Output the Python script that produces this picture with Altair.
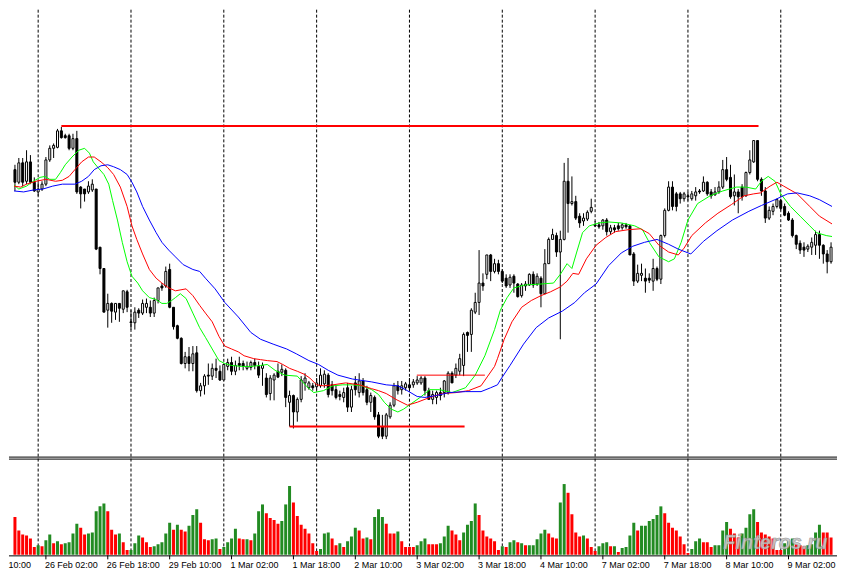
import altair as alt
import pandas as pd

# ---------------- data (price units are arbitrary points) ----------------
OPEN = [
    335, 322, 342, 323, 343, 322, 312, 315, 320, 345,
    357, 358, 375, 370, 370, 357, 367, 317, 315, 312,
    314, 315, 255, 233, 190, 197, 188, 197, 191, 209,
    178, 177, 190, 187, 193, 193, 187, 200, 215, 215,
    232, 193, 174, 161, 135, 142, 135, 146, 107, 112,
    123, 122, 130, 127, 118, 132, 136, 127, 135, 135,
    130, 131, 136, 132, 130, 120, 104, 118, 127, 126,
    128, 95, 102, 85, 98, 115, 110, 112, 111, 112,
    114, 123, 113, 108, 103, 100, 110, 90, 115, 105,
    117, 108, 95, 100, 82, 70, 60, 80, 92, 112,
    108, 110, 113, 113, 115, 115, 120, 107, 98, 100,
    105, 105, 105, 125, 123, 127, 133, 167, 165, 188,
    198, 218, 227, 247, 230, 238, 230, 223, 216, 225,
    217, 205, 215, 216, 227, 217, 223, 207, 238, 263,
    267, 250, 263, 323, 300, 302, 287, 282, 284, 292,
    278, 278, 277, 283, 271, 275, 277, 275, 278, 277,
    248, 220, 226, 223, 223, 220, 233, 222, 267, 293,
    317, 310, 310, 305, 308, 305, 308, 313, 313, 322,
    312, 309, 312, 317, 335, 327, 308, 312, 317, 308,
    332, 343, 365, 325, 313, 285, 292, 297, 303, 297,
    290, 283, 267, 259, 255, 253, 255, 257, 268, 257,
    248, 240,
]
HIGH = [
    340, 347, 347, 355, 350, 327, 322, 323, 348, 360,
    362, 377, 379, 372, 372, 372, 375, 318, 315, 323,
    325, 315, 255, 233, 207, 198, 197, 197, 210, 211,
    190, 193, 192, 201, 202, 200, 203, 213, 218, 235,
    238, 193, 175, 162, 147, 152, 153, 153, 115, 124,
    135, 135, 140, 133, 135, 140, 142, 138, 142, 138,
    137, 138, 140, 137, 136, 125, 123, 125, 135, 134,
    130, 107, 103, 100, 122, 125, 117, 115, 120, 130,
    128, 125, 117, 112, 107, 110, 115, 112, 122, 125,
    120, 112, 105, 102, 85, 82, 84, 95, 115, 117,
    117, 116, 120, 119, 122, 122, 122, 110, 107, 107,
    110, 118, 127, 127, 135, 145, 167, 168, 192, 208,
    252, 228, 247, 248, 243, 242, 232, 227, 227, 227,
    218, 218, 220, 228, 230, 228, 225, 253, 265, 274,
    270, 272, 342, 347, 328, 308, 290, 290, 293, 305,
    282, 281, 284, 285, 278, 278, 280, 280, 280, 278,
    250, 237, 238, 233, 228, 243, 235, 268, 295, 323,
    323, 312, 312, 312, 312, 313, 317, 315, 328, 323,
    315, 317, 323, 345, 348, 340, 330, 315, 320, 333,
    355, 365, 365, 327, 317, 297, 300, 305, 305, 300,
    292, 285, 268, 262, 260, 258, 265, 272, 272, 258,
    252, 260,
]
LOW = [
    313, 320, 318, 320, 320, 312, 308, 313, 318, 343,
    347, 357, 367, 367, 355, 355, 310, 295, 302, 310,
    312, 252, 227, 188, 172, 177, 180, 178, 187, 188,
    170, 170, 182, 185, 187, 183, 183, 197, 210, 213,
    192, 170, 160, 134, 130, 127, 127, 105, 101, 103,
    113, 118, 120, 117, 118, 128, 123, 123, 128, 128,
    128, 128, 129, 120, 112, 100, 97, 97, 120, 122,
    90, 70, 68, 75, 95, 107, 108, 107, 108, 110,
    110, 100, 102, 98, 97, 95, 85, 85, 102, 100,
    102, 92, 85, 77, 58, 57, 57, 78, 90, 103,
    103, 107, 108, 110, 113, 113, 102, 98, 93, 93,
    97, 100, 103, 115, 120, 123, 122, 147, 147, 186,
    185, 210, 222, 220, 228, 227, 218, 213, 213, 208,
    203, 203, 210, 215, 213, 215, 193, 207, 238, 263,
    245, 160, 262, 270, 298, 283, 275, 277, 282, 290,
    276, 274, 273, 267, 268, 270, 272, 273, 274, 247,
    215, 218, 220, 208, 218, 210, 220, 217, 265, 292,
    293, 292, 300, 302, 303, 303, 303, 310, 312, 308,
    305, 308, 310, 315, 323, 305, 298, 290, 303, 307,
    330, 342, 323, 308, 280, 283, 288, 295, 293, 287,
    282, 265, 253, 248, 245, 250, 247, 247, 243, 238,
    228, 238,
]
CLOSE = [
    322, 342, 322, 343, 322, 313, 315, 320, 345, 357,
    360, 375, 368, 368, 357, 367, 312, 310, 310, 318,
    320, 253, 233, 188, 197, 189, 197, 192, 210, 193,
    177, 188, 187, 197, 197, 187, 200, 213, 213, 230,
    193, 173, 161, 135, 142, 135, 145, 107, 112, 122,
    122, 130, 128, 118, 134, 136, 127, 133, 133, 132,
    132, 136, 133, 123, 133, 103, 120, 123, 121, 129,
    100, 102, 85, 98, 118, 120, 115, 110, 115, 123,
    124, 103, 107, 100, 101, 105, 90, 108, 108, 117,
    105, 95, 102, 80, 60, 60, 82, 92, 112, 107,
    112, 114, 110, 116, 118, 120, 107, 98, 103, 105,
    102, 117, 125, 115, 130, 140, 165, 164, 190, 198,
    218, 215, 247, 230, 238, 230, 220, 215, 224, 218,
    204, 216, 217, 227, 216, 225, 207, 238, 263, 268,
    250, 263, 323, 300, 302, 285, 280, 285, 291, 296,
    277, 276, 283, 271, 275, 273, 274, 278, 276, 247,
    220, 228, 228, 220, 221, 233, 222, 267, 293, 317,
    297, 297, 305, 310, 307, 310, 312, 312, 322, 310,
    308, 312, 317, 335, 325, 307, 312, 307, 307, 332,
    345, 365, 325, 313, 285, 293, 297, 304, 295, 288,
    283, 267, 258, 252, 252, 256, 260, 268, 257, 248,
    240, 255,
]
VOLUME = [
    39, 25, 21, 20, 17, 8, 10, 9, 15, 21,
    12, 14, 11, 12, 13, 22, 32, 28, 21, 22,
    23, 45, 50, 53, 45, 26, 21, 22, 13, 5,
    5, 12, 20, 18, 13, 8, 9, 11, 13, 22,
    33, 26, 31, 26, 24, 30, 41, 47, 33, 16,
    15, 16, 17, 6, 8, 13, 17, 27, 17, 16,
    16, 15, 22, 45, 52, 43, 38, 36, 32, 35,
    52, 71, 54, 40, 31, 27, 22, 12, 4, 6,
    22, 23, 17, 10, 12, 8, 14, 19, 28, 25,
    17, 18, 16, 39, 47, 39, 32, 22, 22, 24,
    14, 8, 8, 8, 10, 14, 17, 11, 11, 11,
    12, 19, 30, 25, 21, 15, 23, 31, 35, 53,
    41, 25, 19, 17, 14, 5, 9, 8, 13, 15,
    13, 12, 10, 10, 10, 16, 22, 26, 22, 18,
    17, 54, 73, 64, 42, 23, 19, 20, 17, 8,
    4, 9, 12, 13, 9, 9, 3, 7, 8, 20,
    33, 25, 30, 30, 35, 37, 41, 50, 43, 33,
    28, 25, 19, 11, 2, 6, 14, 17, 13, 13,
    8, 10, 10, 25, 34, 27, 22, 18, 22, 28,
    42, 47, 34, 23, 21, 19, 17, 5, 5, 12,
    14, 17, 11, 10, 9, 10, 11, 23, 31, 23,
    23, 18,
]
# G = volume bar drawn green, R = drawn red
VOL_DIR = ("RRRRRRGRGG" "RGRGGGGRRG" "GGGGRRRGRR" "GGGRRRGGGG" "GRGRRGGGRR"
           "RGGRGGGGRR" "GRGGGRRRRG" "GGRRRRRRRG" "GGRRGRGGGR" "RGRGGGRRRG"
           "RRRRGGGRRR" "GGGRRRGGGG" "RRRRRRGRGG" "RGRGGGGGRR" "RGGRRRRGRR"
           "RGGGRGRGGG" "GRGGGGGGRR" "RRRRRGGGRR" "RGGGGRRRGG" "GGRRRRRRRG"
           "GGRRRGGGGR" "RR")

# Alligator-style moving averages (bar position, value)
GREEN_BAR = [-0.25, 1, 3, 4.75, 6.5, 7.75, 9, 10.5, 11.75, 13,
             14.75, 16.5, 18, 19.25, 20.25, 21.5, 23, 24.25, 25.25, 26.5,
             27.75, 29, 30.25, 31.75, 33, 34.75, 36.5, 38, 39.25, 40.5,
             41.5, 42.75, 44.25, 46, 47.75, 49.25, 51, 52.75, 54.25, 56,
             58.5, 61, 63.5, 65.25, 67.25, 69.75, 73, 75.5, 77.25, 79.75,
             82.25, 84.75, 87.25, 89.75, 92.25, 94, 95.5, 97.25, 99, 100.5,
             102.25, 104.75, 107.25, 109.75, 113, 116.5, 119, 121.5, 124, 125.5,
             127.25, 129, 131.75, 136, 139.25, 141, 142.75, 144, 145.25, 146.75,
             148.5, 151, 153.5, 156.75, 160.25, 162.25, 164, 166.5, 169, 170.5,
             172.25, 174, 176.5, 179.75, 183, 186.5, 189, 191.5, 193, 194.75,
             196.5, 198, 200.5, 203, 205.5, 207.25, 209.75, 211.25]
GREEN_VAL = [319, 315, 318, 323, 327, 328, 325, 325, 332, 340,
             348, 355, 357, 352, 343, 337, 330, 320, 303, 283,
             260, 240, 225, 218, 210, 203, 201, 197, 197, 200,
             203, 207, 202, 187, 172, 162, 150, 138, 135, 133,
             132, 132, 133, 134, 128, 123, 122, 111, 105, 107,
             112, 113, 113, 112, 108, 103, 95, 88, 85, 88,
             93, 100, 108, 108, 105, 110, 123, 143, 170, 190,
             203, 213, 216, 217, 218, 227, 238, 233, 250, 270,
             277, 280, 281, 280, 277, 273, 260, 245, 240, 243,
             260, 283, 300, 308, 313, 317, 317, 315, 323, 328,
             323, 310, 297, 287, 277, 270, 267, 266]
RED_BAR = [-0.25, 1.5, 3, 5.5, 8, 10.5, 12.25, 14, 15.5, 17.25,
           19, 20.5, 22.25, 24, 25.5, 27.25, 29, 30.25, 31.5, 33,
           34.75, 36.5, 38, 39.75, 41.5, 44.25, 46, 47.75, 49.25, 51,
           52.75, 54.25, 56, 57.75, 59.25, 61.75, 63.5, 65.25, 67.75, 69.25,
           71, 73, 74.75, 76.25, 78, 79.75, 82.25, 85.5, 89, 92.25,
           94, 96, 98.5, 101.5, 104, 107.25, 110.5, 114, 117.25, 120.5,
           122.25, 124, 124.75, 126.5, 128.5, 131, 133.5, 136, 138.5, 141,
           142.75, 144.25, 145.75, 147.75, 150.25, 152.75, 155.25, 158.5, 161.75, 164,
           166.5, 169, 171.5, 173, 175, 178.5, 181.75, 185.25, 188.5, 191,
           192.75, 195.25, 197, 198.75, 202.25, 205.5, 208, 211.25]
RED_VAL = [318, 317, 320, 323, 325, 323, 324, 328, 335, 343,
           348, 348, 343, 337, 330, 317, 297, 277, 263, 248,
           232, 223, 218, 213, 210, 212, 205, 195, 187, 178,
           163, 153, 150, 147, 143, 140, 139, 138, 137, 134,
           130, 127, 124, 120, 113, 112, 113, 115, 113, 109,
           107, 104, 98, 92, 95, 100, 104, 105, 107, 112,
           122, 132, 140, 160, 178, 193, 200, 205, 209, 214,
           220, 228, 227, 243, 257, 265, 271, 273, 274, 269,
           257, 250, 247, 254, 267, 280, 290, 299, 308, 310,
           311, 318, 322, 318, 310, 297, 287, 279]
BLUE_BAR = [-0.25, 2.25, 4.75, 7.25, 9.75, 12.25, 15.5, 17.25, 19, 20.5,
            22.25, 24, 25.5, 27.25, 29, 30.25, 31.5, 33, 34.75, 36.5,
            38, 39.75, 41.5, 43.5, 46, 47.75, 49.25, 51.75, 54.25, 57.75,
            61, 63.5, 66.75, 70.25, 72.75, 76, 78.5, 81, 83.5, 87.25,
            92.25, 96, 99, 101, 104, 106, 109, 112.25, 116.5, 120.5,
            123, 124.75, 125.5, 128, 131.5, 134.75, 138, 141.5, 144.75, 147.25,
            150.25, 153.5, 156.75, 159.75, 162.75, 166, 169, 171.5, 174.75, 178,
            181.5, 185.5, 189.75, 193, 196.5, 199.75, 202.25, 205.5, 208, 211.25]
BLUE_VAL = [313, 312, 314, 315, 318, 320, 320, 323, 328, 335,
            339, 340, 338, 335, 330, 322, 312, 297, 283, 270,
            260, 252, 245, 237, 232, 230, 223, 212, 198, 183,
            167, 160, 155, 150, 145, 138, 134, 128, 123, 119,
            116, 113, 112, 108, 101, 100, 102, 105, 106, 106,
            110, 113, 118, 133, 155, 172, 182, 189, 198, 208,
            217, 236, 249, 256, 260, 263, 258, 253, 248, 261,
            272, 283, 292, 298, 304, 310, 311, 308, 304, 297]

# horizontal support / resistance lines
LEVELS = [380, 70, 123]
LEVEL_FROM = [12, 71, 103.9]
LEVEL_TO = [192.25, 116.25, 121.5]
LEVEL_WIDTH = [2, 2, 1]

# day separators and time labels (bar index)
GRID_BARS = [6, 30, 54, 78, 102, 126, 150, 174, 198]
FIRST_LABEL = "10:00"          # tail of the label that starts left of the chart
LABEL_BARS = [8, 24, 40, 56, 72, 88, 104, 120, 136, 152, 168, 184, 200]
LABEL_TEXT = ["26 Feb 02:00", "26 Feb 18:00", "29 Feb 10:00",
              "1 Mar 02:00", "1 Mar 18:00", "2 Mar 10:00", "3 Mar 02:00",
              "3 Mar 18:00", "4 Mar 10:00", "7 Mar 02:00", "7 Mar 18:00",
              "8 Mar 10:00", "9 Mar 02:00"]
WATERMARK = "Finteros.ru"

# ---------------- tables ----------------
N = len(OPEN)
candles = pd.DataFrame({"bar": list(range(N)), "open": OPEN, "high": HIGH,
                        "low": LOW, "close": CLOSE})
vol = pd.DataFrame({"bar": list(range(N)), "volume": VOLUME, "dir": list(VOL_DIR)})
ma = pd.concat([
    pd.DataFrame({"bar": GREEN_BAR, "value": GREEN_VAL, "line": "lips"}),
    pd.DataFrame({"bar": RED_BAR, "value": RED_VAL, "line": "teeth"}),
    pd.DataFrame({"bar": BLUE_BAR, "value": BLUE_VAL, "line": "jaw"}),
], ignore_index=True)
levels = pd.DataFrame({"level": LEVELS, "start": LEVEL_FROM, "end": LEVEL_TO,
                       "w": LEVEL_WIDTH})
grid = pd.DataFrame({"bar": GRID_BARS})
labels = pd.DataFrame({"bar": LABEL_BARS, "text": LABEL_TEXT})
one = pd.DataFrame({"k": [0]})

# ---------------- layout ----------------
W, H = 830, 566
PRICE_BOTTOM = 447
VOL_TOP = 448.3
VOL_BASE = 546.5

XS = alt.Scale(domain=[-0.25, 211.25], nice=False, zero=False)
PS = alt.Scale(domain=[40, 500], range=[PRICE_BOTTOM, 0], nice=False, zero=False)
VS = alt.Scale(domain=[0, 101], range=[VOL_BASE, VOL_TOP], nice=False, zero=True)


def xenc(field):
    return alt.X(field, type="quantitative", scale=XS, axis=None)


grid_layer = alt.Chart(grid).mark_rule(color="black", strokeWidth=1, strokeDash=[3, 2]).encode(
    x=xenc("bar"), y=alt.value(0), y2=alt.value(547))

wicks = alt.Chart(candles).mark_rule(color="black", strokeWidth=1, clip=True).encode(
    x=xenc("bar"), y=alt.Y("low:Q", scale=PS, axis=None), y2="high:Q")

bodies = alt.Chart(candles).mark_bar(width=2, stroke="black", strokeWidth=1, clip=True).encode(
    x=xenc("bar"), y=alt.Y("open:Q", scale=PS, axis=None), y2="close:Q",
    fill=alt.condition("datum.close >= datum.open", alt.value("white"), alt.value("black")))

lines = alt.Chart(ma).mark_line(strokeWidth=1, clip=True).encode(
    x=xenc("bar"), y=alt.Y("value:Q", scale=PS, axis=None),
    color=alt.Color("line:N", scale=alt.Scale(domain=["lips", "teeth", "jaw"],
                                              range=["#00FF00", "#FF0000", "#0000FF"]),
                    legend=None),
    detail="line:N")

level_rules = alt.Chart(levels).mark_rule(color="#FF0000", clip=True).encode(
    x=alt.X("start:Q", scale=XS, axis=None), x2="end:Q",
    y=alt.Y("level:Q", scale=PS, axis=None),
    strokeWidth=alt.StrokeWidth("w:Q", scale=None, legend=None))

vol_bars = alt.Chart(vol).mark_bar(width=3, clip=True).encode(
    x=xenc("bar"), y=alt.Y("volume:Q", scale=VS, axis=None),
    color=alt.Color("dir:N", scale=alt.Scale(domain=["G", "R"], range=["#228B22", "#FF0000"]),
                    legend=None))


def hline(yy):
    return alt.Chart(one).mark_rule(color="black", strokeWidth=1).encode(
        x=alt.value(0), x2=alt.value(W), y=alt.value(yy))


ticks = alt.Chart(labels).mark_rule(color="black", strokeWidth=1, clip=True).encode(
    x=xenc("bar"), y=alt.value(547), y2=alt.value(551))

tick_text = alt.Chart(labels).mark_text(
    align="left", baseline="alphabetic", dx=-1, font="Liberation Sans", fontSize=9,
    color="black", clip=True).encode(x=xenc("bar"), y=alt.value(560), text="text:N")

first_text = alt.Chart(pd.DataFrame({"t": [FIRST_LABEL]})).mark_text(
    align="right", baseline="alphabetic", font="Liberation Sans", fontSize=9,
    color="black").encode(x=alt.value(22), y=alt.value(560), text="t:N")

# watermark sits just above the time labels so it does not cover them
watermark = alt.Chart(pd.DataFrame({"t": [WATERMARK]})).mark_text(
    align="left", baseline="alphabetic", font="Liberation Sans", fontSize=20,
    fontWeight="bold", fontStyle="italic", fill="#c8c8c8", stroke="#8c8c8c",
    strokeWidth=0.6, opacity=0.9).encode(x=alt.value(716), y=alt.value(541), text="t:N")

chart = alt.layer(
    grid_layer, wicks, bodies, lines, level_rules, vol_bars,
    hline(448.5), hline(450.5), hline(547.5), ticks, tick_text, first_text, watermark,
).resolve_scale(y="independent", color="independent").properties(
    width=W, height=H, padding=0, background="white"
).configure_view(strokeWidth=0)

chart.save("out.html", embed_options={"renderer": "svg", "actions": False})
